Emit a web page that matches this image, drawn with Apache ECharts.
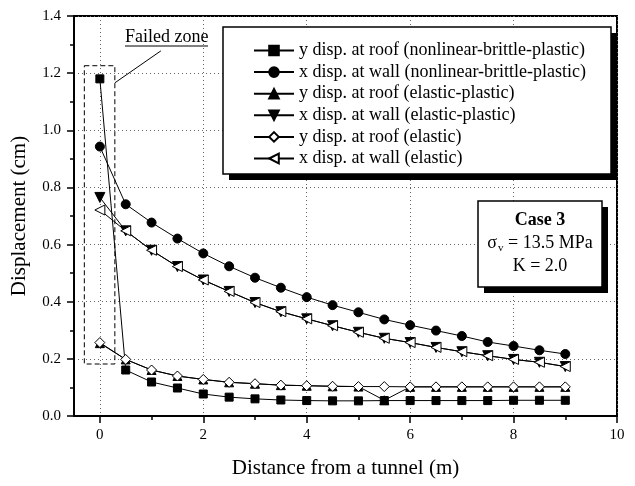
<!DOCTYPE html>
<html>
<head>
<meta charset="utf-8">
<script src="https://cdn.jsdelivr.net/npm/echarts@6/dist/echarts.min.js"></script>
<style>
  html, body { margin: 0; padding: 0; background: #fff; }
  #chart { width: 635px; height: 486px; }
</style>
</head>
<body>
<div id="chart"></div>
<script>
// Distance from the tunnel boundary (m)
const distance = [0, 0.5, 1, 1.5, 2, 2.5, 3, 3.5, 4, 4.5, 5, 5.5, 6, 6.5, 7, 7.5, 8, 8.5, 9];

// Displacements (cm)
const roofNBP = [1.18, 0.161, 0.119, 0.098, 0.077, 0.066, 0.060, 0.056, 0.054, 0.053, 0.053, 0.054, 0.054, 0.054, 0.054, 0.054, 0.055, 0.055, 0.055];
const wallNBP = [0.943, 0.741, 0.677, 0.621, 0.569, 0.524, 0.484, 0.449, 0.416, 0.388, 0.363, 0.338, 0.318, 0.299, 0.280, 0.259, 0.245, 0.230, 0.217];
const roofEP  = [0.255, 0.198, 0.161, 0.140, 0.128, 0.118, 0.113, 0.108, 0.106, 0.104, 0.103, 0.055, 0.102, 0.102, 0.102, 0.102, 0.102, 0.102, 0.102];
const wallEP  = [0.765, 0.648, 0.580, 0.523, 0.476, 0.436, 0.397, 0.365, 0.340, 0.316, 0.293, 0.272, 0.257, 0.240, 0.225, 0.211, 0.198, 0.188, 0.173];
const roofE   = [0.257, 0.198, 0.161, 0.140, 0.128, 0.118, 0.113, 0.108, 0.106, 0.104, 0.103, 0.103, 0.102, 0.102, 0.102, 0.102, 0.102, 0.102, 0.102];
const wallE   = [0.721, 0.648, 0.580, 0.523, 0.476, 0.436, 0.397, 0.365, 0.340, 0.316, 0.293, 0.272, 0.257, 0.240, 0.225, 0.211, 0.198, 0.188, 0.173];

const seriesNames = [
  'y disp. at roof (nonlinear-brittle-plastic)',
  'x disp. at wall (nonlinear-brittle-plastic)',
  'y disp. at roof (elastic-plastic)',
  'x disp. at wall (elastic-plastic)',
  'y disp. at roof (elastic)',
  'x disp. at wall (elastic)'
];

// Axis ticks
const xMajorTicks = [0, 2, 4, 6, 8, 10];
const xMinorTicks = [1, 3, 5, 7, 9];

// Failed zone outline and pointer (data coordinates)
const failedZone = [[-0.3, 1.226], [0.29, 0.182]];
const failedArrow = [[0.29, 1.166], [1.18, 1.278]];

const FONT = "'Liberation Serif', 'Times New Roman', serif";
const GRID_LINE = { color: '#666', type: [1, 3], width: 1 };

function pairs(ys) {
  return distance.map((x, i) => [x, ys[i]]);
}

function lineSeries(name, ys, symbol, size, fill, rotate, extra) {
  return Object.assign({
    name: name,
    type: 'line',
    data: pairs(ys),
    symbol: symbol,
    symbolSize: size,
    symbolRotate: rotate || 0,
    showAllSymbol: true,
    lineStyle: { color: '#000', width: 1 },
    itemStyle: { color: fill, borderColor: '#000', borderWidth: 1 },
    emphasis: { disabled: true },
    animation: false
  }, extra || {});
}

// Framed panel with a hard drop shadow (drawn as two rectangles)
function shadowBox(x, y, w, h, z) {
  return [
    { type: 'rect', z: z, silent: true,
      shape: { x: x + 6, y: y + 6, width: w, height: h },
      style: { fill: '#000' } },
    { type: 'rect', z: z, silent: true,
      shape: { x: x, y: y, width: w, height: h },
      style: { fill: '#fff', stroke: '#000', lineWidth: 1.5 } }
  ];
}

const chart = echarts.init(document.getElementById('chart'), null, { renderer: 'canvas' });

const option = {
  animation: false,
  backgroundColor: '#fff',
  grid: {
    left: 74, right: 18, top: 16, bottom: 70,
    show: true, borderColor: '#000', borderWidth: 2, backgroundColor: 'transparent'
  },
  xAxis: [{
    type: 'value',
    min: -0.5, max: 10,
    name: 'Distance from a tunnel (m)',
    nameLocation: 'middle',
    nameGap: 42,
    nameTextStyle: { fontFamily: FONT, fontSize: 21, color: '#000' },
    axisLine: { onZero: false, lineStyle: { color: '#000', width: 2 } },
    axisTick: { customValues: xMajorTicks, length: 7, lineStyle: { color: '#000', width: 1.5 } },
    axisLabel: { customValues: xMajorTicks, fontFamily: FONT, fontSize: 15, color: '#000', margin: 12 },
    splitLine: { show: true, lineStyle: GRID_LINE }
  }, {
    type: 'value',
    min: -0.5, max: 10,
    position: 'bottom',
    axisLine: { show: false, onZero: false },
    axisTick: { customValues: xMinorTicks, length: 4, lineStyle: { color: '#000', width: 1.5 } },
    axisLabel: { show: false },
    splitLine: { show: false }
  }],
  yAxis: {
    type: 'value',
    min: 0, max: 1.4, interval: 0.2,
    name: 'Displacement (cm)',
    nameLocation: 'middle',
    nameGap: 44,
    nameTextStyle: { fontFamily: FONT, fontSize: 21, color: '#000' },
    axisLine: { show: true, onZero: false, lineStyle: { color: '#000', width: 2 } },
    axisTick: { show: true, length: 7, lineStyle: { color: '#000', width: 1.5 } },
    minorTick: { show: true, splitNumber: 2, length: 4, lineStyle: { color: '#000', width: 1.5 } },
    axisLabel: {
      fontFamily: FONT, fontSize: 15, color: '#000', margin: 13,
      formatter: v => v.toFixed(1)
    },
    splitLine: { show: true, lineStyle: GRID_LINE }
  },
  legend: {
    orient: 'vertical',
    left: 223, top: 27,
    padding: [13.5, 26, 7, 30],
    itemWidth: 40, itemHeight: 12,
    itemGap: 1.6,
    itemTextGap: 5,
    z: 10,
    selectedMode: false,
    textStyle: { fontFamily: FONT, fontSize: 18, color: '#000', lineHeight: 20 },
    data: seriesNames
  },
  series: [
    lineSeries(seriesNames[0], roofNBP, 'rect', 8, '#000', 0, {
      markArea: {
        silent: true,
        itemStyle: { color: 'rgba(0,0,0,0)', borderColor: '#000', borderWidth: 1, borderType: [5, 3] },
        data: [[{ coord: failedZone[0] }, { coord: failedZone[1] }]]
      },
      markLine: {
        silent: true,
        animation: false,
        symbol: ['none', 'arrow'],
        symbolSize: [0, 8],
        label: { show: false },
        lineStyle: { color: '#000', width: 1, type: 'solid' },
        data: [[{ coord: failedArrow[0] }, { coord: failedArrow[1] }]]
      }
    }),
    lineSeries(seriesNames[1], wallNBP, 'circle', 9, '#000', 0),
    lineSeries(seriesNames[2], roofEP, 'triangle', 9, '#000', 0),
    lineSeries(seriesNames[3], wallEP, 'triangle', 10, '#000', 180),
    lineSeries(seriesNames[4], roofE, 'diamond', 10, '#fff', 0),
    lineSeries(seriesNames[5], wallE, 'triangle', 10, '#fff', 90)
  ],
  graphic: [
    // legend panel
    ...shadowBox(223, 27, 388, 147, 5),
    // "Failed zone" caption with underline
    {
      type: 'text', left: 125, top: 28, z: 6,
      style: { text: 'Failed zone', fontFamily: FONT, fontSize: 18, fill: '#000' }
    },
    {
      type: 'line', z: 6,
      shape: { x1: 125, y1: 46, x2: 208, y2: 46 },
      style: { stroke: '#000', lineWidth: 1 }
    },
    // case parameters panel
    ...shadowBox(478, 201, 124, 86, 5),
    {
      type: 'text', z: 6, x: 540, y: 220,
      style: {
        text: 'Case 3', fontFamily: FONT, fontSize: 18, fontWeight: 'bold', fill: '#000',
        align: 'center', verticalAlign: 'middle'
      }
    },
    {
      type: 'text', z: 6, x: 540, y: 243,
      style: {
        text: '{s|σ}{sub|v}{s| = 13.5 MPa}',
        align: 'center', verticalAlign: 'middle',
        rich: {
          s: { fontFamily: FONT, fontSize: 18, fill: '#000' },
          sub: { fontFamily: FONT, fontSize: 11, fill: '#000', padding: [10, 0, 0, 1] }
        }
      }
    },
    {
      type: 'text', z: 6, x: 540, y: 266,
      style: {
        text: 'K = 2.0', fontFamily: FONT, fontSize: 18, fill: '#000',
        align: 'center', verticalAlign: 'middle'
      }
    }
  ]
};

chart.setOption(option);
</script>
</body>
</html>
